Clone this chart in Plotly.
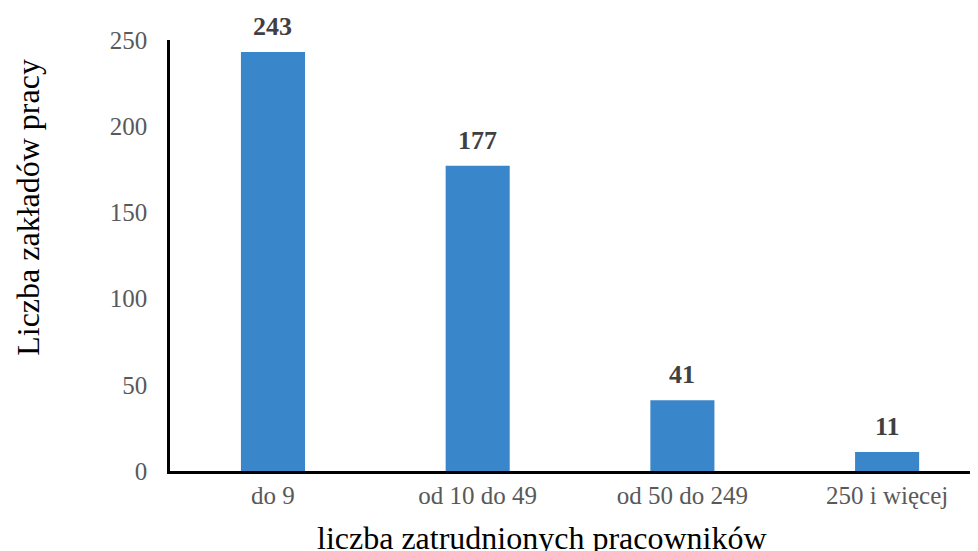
import plotly.graph_objects as go

categories = ["do 9", "od 10 do 49", "od 50 do 249", "250 i więcej"]
values = [243, 177, 41, 11]
y_ticks = [0, 50, 100, 150, 200, 250]

font_family = "Liberation Serif, Times New Roman, serif"

fig = go.Figure()
fig.add_trace(go.Bar(
    x=categories, y=values, width=0.313,
    marker=dict(color="#3A86CA", line=dict(width=0)),
))

for c, v in zip(categories, values):
    fig.add_annotation(x=c, y=v, text=f"<b>{v}</b>", showarrow=False,
                       yanchor="bottom", yshift=9,
                       font=dict(family=font_family, size=26, color="#404040"))

fig.add_annotation(xref="paper", yref="paper", x=-0.176, y=0.6125,
                   xanchor="center", yanchor="middle",
                   text="Liczba zakładów pracy", textangle=-90, showarrow=False,
                   font=dict(family=font_family, size=32, color="#000000"))
fig.add_annotation(xref="paper", yref="paper", x=0.46, y=-0.155,
                   xanchor="center", yanchor="middle",
                   text="liczba zatrudnionych pracowników", showarrow=False,
                   font=dict(family=font_family, size=32, color="#000000"))

fig.update_layout(
    width=978, height=551,
    margin=dict(l=162, r=8, t=32, b=88),
    paper_bgcolor="white", plot_bgcolor="white",
    showlegend=False,
    font=dict(family=font_family),
    xaxis=dict(range=[-0.503, 3.444], showline=True, linecolor="#000000", linewidth=2.5,
               ticks="", tickfont=dict(family=font_family, size=25, color="#595959"),
               showgrid=False, zeroline=False),
    yaxis=dict(range=[0, 250], tickvals=y_ticks, showline=True, linecolor="#000000",
               linewidth=2.5, ticks="", ticklabelstandoff=15,
               tickfont=dict(family=font_family, size=25, color="#595959"),
               showgrid=False, zeroline=False),
)

fig.write_html("out.html")
